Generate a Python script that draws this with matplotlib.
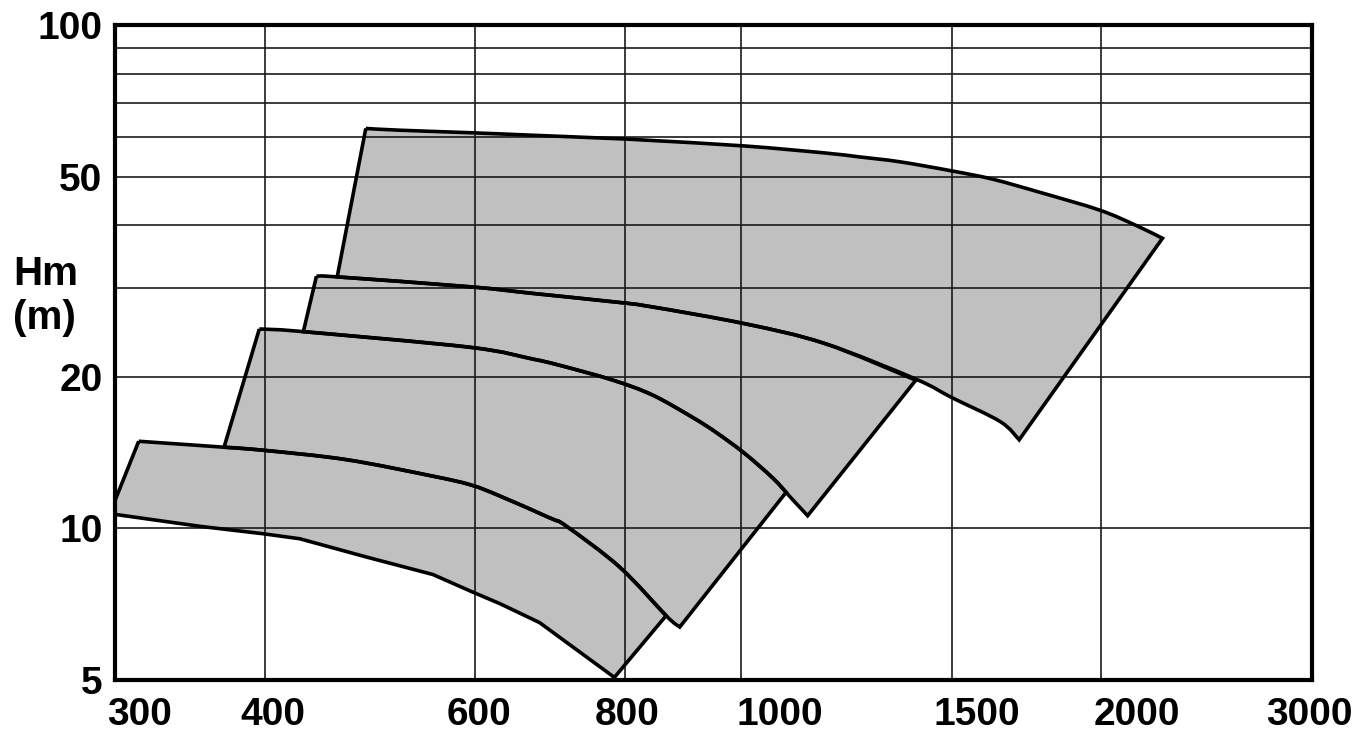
import numpy as np
import matplotlib
matplotlib.use("Agg")
import matplotlib.pyplot as plt
import matplotlib.transforms as mtransforms
from matplotlib.path import Path
from matplotlib.patches import PathPatch
from matplotlib.ticker import FixedLocator, NullLocator

plt.rcParams['font.family'] = ['Liberation Sans', 'DejaVu Sans']

# axis ticks / grid
x_ticks = [300, 400, 600, 800, 1000, 1500, 2000, 3000]
x_labels = ["300", "400", "600", "800", "1000", "1500", "2000", "3000"]
y_ticks = [5, 10, 20, 50, 100]
y_labels = ["5", "10", "20", "50", "100"]
x_grid = [400, 600, 800, 1000, 1500, 2000]
y_grid = [10, 20, 30, 40, 50, 60, 70, 80, 90]

# tile 1 (lowest)
t1_top_q = [314, 370, 399, 468, 553, 595, 629, 692, 715, 792, 866]
t1_top_h = [14.9, 14.5, 14.3, 13.7, 12.7, 12.2, 11.6, 10.5, 10.1, 8.38, 6.71]
t1_bot_q = [297, 353, 399, 428, 487, 553, 595, 629, 679, 784]
t1_bot_h = [10.7, 10.1, 9.76, 9.54, 8.77, 8.10, 7.50, 7.09, 6.5, 5.06]

# tile 2
t2_top_q = [396, 431, 594, 670, 705, 782, 844, 912, 954, 1007, 1063, 1091]
t2_top_h = [24.9, 24.6, 22.9, 21.7, 21.1, 19.7, 18.4, 16.6, 15.5, 14.1, 12.6, 11.8]
t2_bot_q = [370, 399, 468, 553, 595, 629, 692, 715, 792, 866, 889]
t2_bot_h = [14.5, 14.3, 13.7, 12.7, 12.2, 11.6, 10.5, 10.1, 8.38, 6.71, 6.37]

# tile 3
t3_top_q = [442, 460, 594, 670, 782, 839, 1008, 1175, 1400]
t3_top_h = [31.7, 31.6, 30.2, 29.3, 28.2, 27.6, 25.5, 23.3, 19.7]
t3_bot_q = [431, 594, 670, 705, 782, 844, 912, 954, 1007, 1063, 1105, 1137]
t3_bot_h = [24.6, 22.9, 21.7, 21.1, 19.7, 18.4, 16.6, 15.5, 14.1, 12.6, 11.4, 10.6]

# tile 4 (largest)
t4_top_q = [486, 519, 594, 670, 782, 839, 1008, 1175, 1256, 1357, 1501, 1623, 1773, 1993, 2138, 2250]
t4_top_h = [62.3, 61.8, 61.1, 60.4, 59.5, 59.0, 57.5, 55.7, 54.7, 53.5, 51.3, 49.4, 46.6, 42.9, 40.0, 37.7]
t4_bot_q = [460, 594, 670, 782, 839, 1008, 1175, 1400, 1500, 1647, 1708]
t4_bot_h = [31.6, 30.2, 29.3, 28.2, 27.6, 25.5, 23.3, 19.8, 18.2, 16.3, 15.0]

tiles = [
    (t1_top_q, t1_top_h, t1_bot_q, t1_bot_h, False),
    (t2_top_q, t2_top_h, t2_bot_q, t2_bot_h, True),
    (t3_top_q, t3_top_h, t3_bot_q, t3_bot_h, True),
    (t4_top_q, t4_top_h, t4_bot_q, t4_bot_h, True),
]


def curve_segments(q, h, smooth):
    # bezier segments (in log space) through the points, returned in data units
    pts = np.column_stack([np.log10(q), np.log10(h)])
    n = len(pts)
    verts, codes = [], []
    for i in range(n - 1):
        if smooth:
            p0, p1 = pts[max(i - 1, 0)], pts[i]
            p2, p3 = pts[i + 1], pts[min(i + 2, n - 1)]
            verts += [p1 + (p2 - p0) / 6, p2 - (p3 - p1) / 6, p2]
            codes += [Path.CURVE4] * 3
        else:
            verts.append(pts[i + 1])
            codes.append(Path.LINETO)
    return 10 ** np.array(verts), codes


def tile_path(tq, th, bq, bh, smooth_bottom):
    v1, c1 = curve_segments(tq, th, True)
    v2, c2 = curve_segments(bq[::-1], bh[::-1], smooth_bottom)
    verts = [(tq[0], th[0])] + list(map(tuple, v1)) + [(bq[-1], bh[-1])] + list(map(tuple, v2)) + [(tq[0], th[0])]
    codes = [Path.MOVETO] + c1 + [Path.LINETO] + c2 + [Path.LINETO]
    return Path(verts, codes)


fig = plt.figure(figsize=(13.68, 7.38), dpi=100)
ax = fig.add_axes([115 / 1368, 1 - 680 / 738, 1197 / 1368, 655 / 738])
ax.set_xscale('log')
ax.set_yscale('log')
ax.set_xlim(300, 3000)
ax.set_ylim(5, 100)

for tq, th, bq, bh, sb in tiles:
    p = tile_path(tq, th, bq, bh, sb)
    ax.add_patch(PathPatch(p, facecolor='#c0c0c0', edgecolor='none', zorder=1))
    ax.add_patch(PathPatch(p, fill=False, edgecolor='black', lw=2.6, joinstyle='miter', zorder=3))

for v in x_grid:
    ax.axvline(v, color='#1a1a1a', lw=1.2, zorder=2)
for v in y_grid:
    ax.axhline(v, color='#1a1a1a', lw=1.2, zorder=2)

ax.xaxis.set_major_locator(FixedLocator(x_ticks))
ax.xaxis.set_minor_locator(NullLocator())
ax.set_xticklabels(x_labels)
ax.yaxis.set_major_locator(FixedLocator(y_ticks))
ax.yaxis.set_minor_locator(NullLocator())
ax.set_yticklabels(y_labels)
ax.tick_params(axis='both', which='both', length=0, labelsize=28)
ax.tick_params(axis='x', pad=12)
ax.tick_params(axis='y', pad=9)
for lab in ax.get_xticklabels() + ax.get_yticklabels():
    lab.set_fontweight('bold')

# the original labels sit a little right of their grid lines
x_shift_px = [25, 8, 4, 2, 39, 25, 36, -3]
for lab, dx in zip(ax.get_xticklabels(), x_shift_px):
    lab.set_transform(lab.get_transform() + mtransforms.ScaledTranslation(dx / 100, 0, fig.dpi_scale_trans))

for s in ax.spines.values():
    s.set_linewidth(3)
    s.set_color('black')
    s.set_zorder(4)

fig.text(13 / 1368, 1 - 296 / 738, "Hm\n(m)", ha='left', va='center',
         fontsize=29, fontweight='bold', linespacing=1.2)

fig.savefig("out.png", dpi=100)
